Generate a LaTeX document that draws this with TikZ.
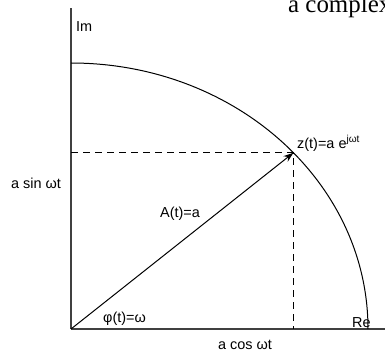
\documentclass[tikz,border=0pt]{standalone}
\usepackage{fontspec}
\setmainfont{Liberation Sans}
\newfontfamily\pageserif{Liberation Serif}
\usetikzlibrary{arrows.meta}

\begin{document}
\begin{tikzpicture}[
    x=1bp, y=1bp,
    axis/.style={draw=black!75, line width=1.6bp},
    curve/.style={draw=black, line width=1bp},
    guide/.style={draw=black, line width=1.1bp, dash pattern=on 7bp off 5bp},
    vec/.style={draw=black, line width=1bp, -{Stealth[length=10bp, width=7bp]}},
    lab/.style={font=\fontsize{14.5}{16}\selectfont, inner sep=0pt}
]
    \useasboundingbox (0,0) rectangle (385,352);

    % Ursprung und Achsenenden
    \coordinate (O) at (71,23);
    \coordinate (imtop) at (71,344);
    \coordinate (reend) at (385,23);
    \path (O) ++(41.5:297 and 266) coordinate (z);
    \coordinate (zy) at (O |- z);
    \coordinate (zx) at (z |- O);

    % Achsen
    \draw[axis] (O) -- (imtop);
    \draw[axis] (O) -- (reend);

    % Viertelbogen
    \draw[curve] (O) ++(0,266) arc[start angle=90, end angle=0, x radius=297, y radius=266];

    % Projektionen
    \draw[guide] (zy) -- (z) -- (zx);

    % Zeiger
    \draw[vec] (O) -- (z);

    % Beschriftungen
    \node[lab, anchor=base west] (im) at (76,321) {Im};
    \node[lab, anchor=base west] (re) at (352,25) {Re};
    \node[lab, anchor=base] (sinlab) at (36,164) {a sin ωt};
    \node[lab, anchor=base] (coslab) at (245,3) {a cos ωt};
    \node[lab, anchor=base] (amp) at (180,135) {A(t)=a};
    \node[lab, anchor=base west] (zlab) at (297,204) {z(t)=a e\textsuperscript{jωt}};
    \node[lab, anchor=base west] (phase) at (103,30) {φ(t)=ω};

    % Textrest oben
    \node[font=\pageserif\fontsize{25}{28}\selectfont, inner sep=0pt, anchor=base west] (rest) at (288,339.5) {a complex};
\end{tikzpicture}
\end{document}
